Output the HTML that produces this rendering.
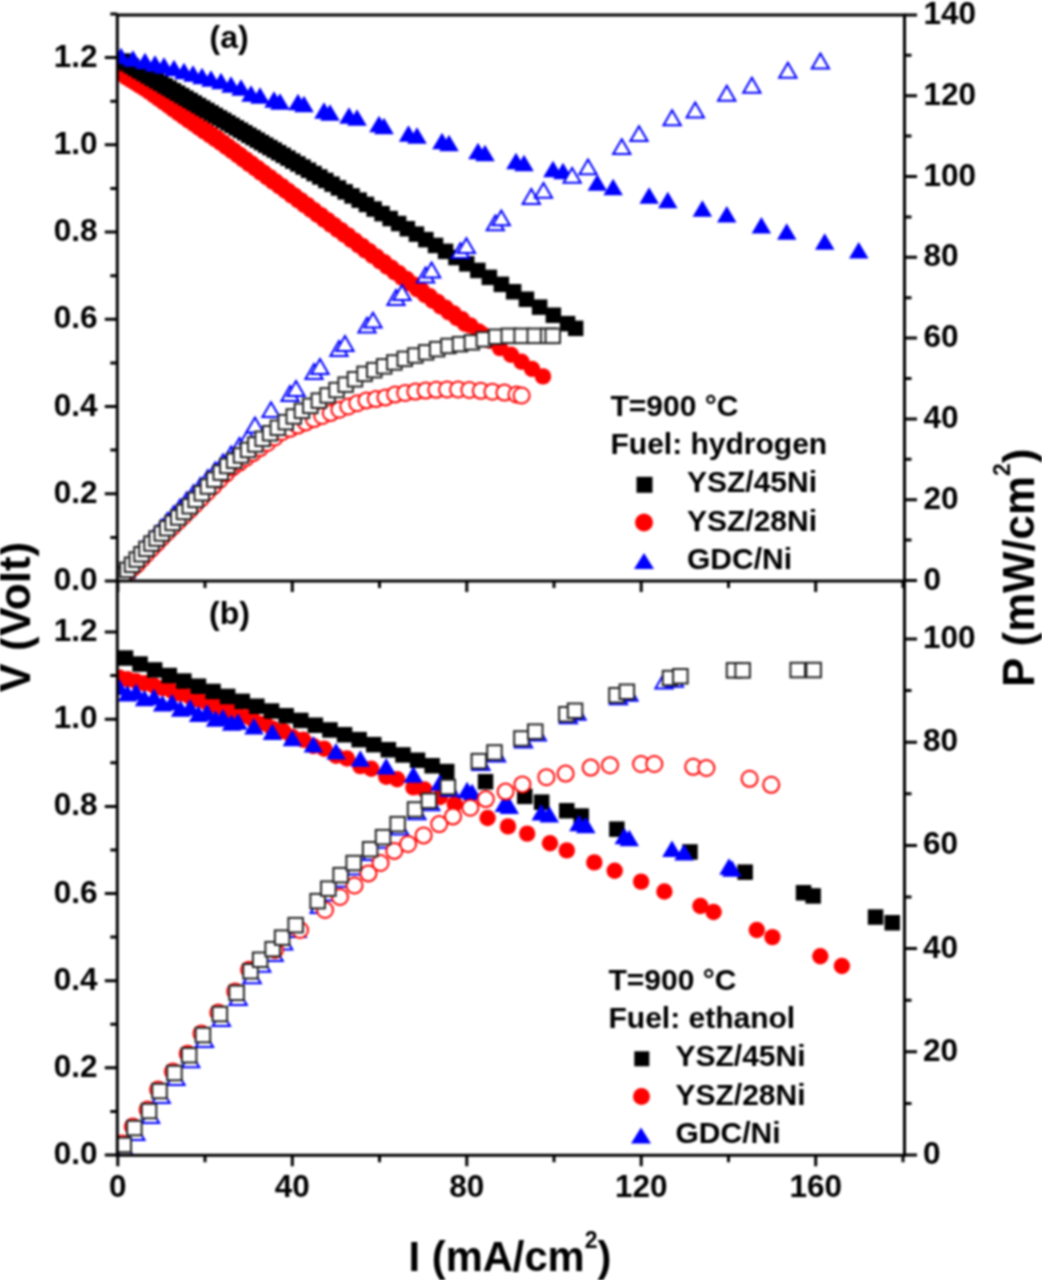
<!DOCTYPE html>
<html><head><meta charset="utf-8"><style>html,body{margin:0;padding:0;background:#fff;}svg{display:block;}#w{filter:blur(0.8px);width:1042px;height:1280px;}</style></head><body><div id="w">
<svg width="1042" height="1280" viewBox="0 0 1042 1280" font-family="&quot;Liberation Sans&quot;, sans-serif" font-weight="bold">
<rect width="1042" height="1280" fill="#fff"/>
<defs><clipPath id="ca"><rect x="117" y="13" width="800" height="568.5"/></clipPath><clipPath id="cb"><rect x="117" y="581" width="800" height="574.5"/></clipPath></defs>
<g clip-path="url(#ca)">
<circle cx="123.0" cy="72.7" r="8.2" fill="#ff0000"/>
<circle cx="127.5" cy="75.5" r="8.2" fill="#ff0000"/>
<circle cx="132.1" cy="78.3" r="8.2" fill="#ff0000"/>
<circle cx="136.7" cy="81.1" r="8.2" fill="#ff0000"/>
<circle cx="141.3" cy="84.0" r="8.2" fill="#ff0000"/>
<circle cx="146.0" cy="87.1" r="8.2" fill="#ff0000"/>
<circle cx="150.8" cy="90.6" r="8.2" fill="#ff0000"/>
<circle cx="155.6" cy="94.1" r="8.2" fill="#ff0000"/>
<circle cx="160.4" cy="97.7" r="8.2" fill="#ff0000"/>
<circle cx="165.4" cy="101.3" r="8.2" fill="#ff0000"/>
<circle cx="170.3" cy="104.9" r="8.2" fill="#ff0000"/>
<circle cx="175.4" cy="108.6" r="8.2" fill="#ff0000"/>
<circle cx="180.4" cy="112.3" r="8.2" fill="#ff0000"/>
<circle cx="185.6" cy="115.9" r="8.2" fill="#ff0000"/>
<circle cx="190.8" cy="119.5" r="8.2" fill="#ff0000"/>
<circle cx="196.0" cy="123.2" r="8.2" fill="#ff0000"/>
<circle cx="201.3" cy="126.9" r="8.2" fill="#ff0000"/>
<circle cx="206.7" cy="130.6" r="8.2" fill="#ff0000"/>
<circle cx="212.1" cy="134.4" r="8.2" fill="#ff0000"/>
<circle cx="217.6" cy="138.2" r="8.2" fill="#ff0000"/>
<circle cx="223.2" cy="142.4" r="8.2" fill="#ff0000"/>
<circle cx="228.8" cy="146.5" r="8.2" fill="#ff0000"/>
<circle cx="234.5" cy="150.8" r="8.2" fill="#ff0000"/>
<circle cx="240.2" cy="155.0" r="8.2" fill="#ff0000"/>
<circle cx="246.0" cy="159.4" r="8.2" fill="#ff0000"/>
<circle cx="251.9" cy="163.7" r="8.2" fill="#ff0000"/>
<circle cx="257.8" cy="168.1" r="8.2" fill="#ff0000"/>
<circle cx="263.8" cy="172.6" r="8.2" fill="#ff0000"/>
<circle cx="269.9" cy="177.1" r="8.2" fill="#ff0000"/>
<circle cx="276.1" cy="181.7" r="8.2" fill="#ff0000"/>
<circle cx="282.3" cy="186.3" r="8.2" fill="#ff0000"/>
<circle cx="288.5" cy="191.0" r="8.2" fill="#ff0000"/>
<circle cx="294.9" cy="195.7" r="8.2" fill="#ff0000"/>
<circle cx="301.3" cy="200.5" r="8.2" fill="#ff0000"/>
<circle cx="307.8" cy="205.3" r="8.2" fill="#ff0000"/>
<circle cx="314.3" cy="210.2" r="8.2" fill="#ff0000"/>
<circle cx="321.0" cy="215.1" r="8.2" fill="#ff0000"/>
<circle cx="327.7" cy="220.1" r="8.2" fill="#ff0000"/>
<circle cx="334.5" cy="225.2" r="8.2" fill="#ff0000"/>
<circle cx="341.3" cy="230.3" r="8.2" fill="#ff0000"/>
<circle cx="348.2" cy="235.4" r="8.2" fill="#ff0000"/>
<circle cx="355.3" cy="240.7" r="8.2" fill="#ff0000"/>
<circle cx="362.3" cy="245.9" r="8.2" fill="#ff0000"/>
<circle cx="369.5" cy="251.3" r="8.2" fill="#ff0000"/>
<circle cx="376.8" cy="256.7" r="8.2" fill="#ff0000"/>
<circle cx="384.1" cy="262.1" r="8.2" fill="#ff0000"/>
<circle cx="391.5" cy="267.7" r="8.2" fill="#ff0000"/>
<circle cx="399.0" cy="273.2" r="8.2" fill="#ff0000"/>
<circle cx="406.6" cy="278.9" r="8.2" fill="#ff0000"/>
<circle cx="414.2" cy="284.7" r="8.2" fill="#ff0000"/>
<circle cx="422.0" cy="290.5" r="8.2" fill="#ff0000"/>
<circle cx="429.8" cy="296.3" r="8.2" fill="#ff0000"/>
<circle cx="437.7" cy="302.0" r="8.2" fill="#ff0000"/>
<circle cx="445.7" cy="307.7" r="8.2" fill="#ff0000"/>
<circle cx="453.8" cy="313.5" r="8.2" fill="#ff0000"/>
<circle cx="462.0" cy="319.3" r="8.2" fill="#ff0000"/>
<circle cx="470.3" cy="325.4" r="8.2" fill="#ff0000"/>
<circle cx="478.6" cy="331.5" r="8.2" fill="#ff0000"/>
<circle cx="482.0" cy="334.0" r="8.2" fill="#ff0000"/>
<circle cx="126.0" cy="77.2" r="8.2" fill="#ff0000"/>
<circle cx="130.5" cy="80.0" r="8.2" fill="#ff0000"/>
<circle cx="135.1" cy="82.8" r="8.2" fill="#ff0000"/>
<circle cx="139.7" cy="85.6" r="8.2" fill="#ff0000"/>
<circle cx="144.3" cy="88.5" r="8.2" fill="#ff0000"/>
<circle cx="149.0" cy="91.6" r="8.2" fill="#ff0000"/>
<circle cx="153.8" cy="95.1" r="8.2" fill="#ff0000"/>
<circle cx="158.6" cy="98.6" r="8.2" fill="#ff0000"/>
<circle cx="163.4" cy="102.2" r="8.2" fill="#ff0000"/>
<circle cx="168.4" cy="105.8" r="8.2" fill="#ff0000"/>
<circle cx="173.3" cy="109.4" r="8.2" fill="#ff0000"/>
<circle cx="178.4" cy="113.1" r="8.2" fill="#ff0000"/>
<circle cx="183.4" cy="116.8" r="8.2" fill="#ff0000"/>
<circle cx="188.6" cy="120.4" r="8.2" fill="#ff0000"/>
<circle cx="193.8" cy="124.0" r="8.2" fill="#ff0000"/>
<circle cx="199.0" cy="127.7" r="8.2" fill="#ff0000"/>
<circle cx="204.3" cy="131.4" r="8.2" fill="#ff0000"/>
<circle cx="209.7" cy="135.1" r="8.2" fill="#ff0000"/>
<circle cx="215.1" cy="138.9" r="8.2" fill="#ff0000"/>
<circle cx="220.6" cy="142.7" r="8.2" fill="#ff0000"/>
<circle cx="226.2" cy="146.9" r="8.2" fill="#ff0000"/>
<circle cx="231.8" cy="151.0" r="8.2" fill="#ff0000"/>
<circle cx="237.5" cy="155.3" r="8.2" fill="#ff0000"/>
<circle cx="243.2" cy="159.5" r="8.2" fill="#ff0000"/>
<circle cx="249.0" cy="163.9" r="8.2" fill="#ff0000"/>
<circle cx="254.9" cy="168.2" r="8.2" fill="#ff0000"/>
<circle cx="260.8" cy="172.6" r="8.2" fill="#ff0000"/>
<circle cx="266.8" cy="177.1" r="8.2" fill="#ff0000"/>
<circle cx="272.9" cy="181.6" r="8.2" fill="#ff0000"/>
<circle cx="279.1" cy="186.2" r="8.2" fill="#ff0000"/>
<circle cx="285.3" cy="190.8" r="8.2" fill="#ff0000"/>
<circle cx="291.5" cy="195.5" r="8.2" fill="#ff0000"/>
<circle cx="297.9" cy="200.2" r="8.2" fill="#ff0000"/>
<circle cx="304.3" cy="205.0" r="8.2" fill="#ff0000"/>
<circle cx="310.8" cy="209.8" r="8.2" fill="#ff0000"/>
<circle cx="317.3" cy="214.7" r="8.2" fill="#ff0000"/>
<circle cx="324.0" cy="219.6" r="8.2" fill="#ff0000"/>
<circle cx="330.7" cy="224.6" r="8.2" fill="#ff0000"/>
<circle cx="337.5" cy="229.7" r="8.2" fill="#ff0000"/>
<circle cx="344.3" cy="234.8" r="8.2" fill="#ff0000"/>
<circle cx="351.2" cy="239.9" r="8.2" fill="#ff0000"/>
<circle cx="358.3" cy="245.2" r="8.2" fill="#ff0000"/>
<circle cx="365.3" cy="250.4" r="8.2" fill="#ff0000"/>
<circle cx="372.5" cy="255.8" r="8.2" fill="#ff0000"/>
<circle cx="379.8" cy="261.2" r="8.2" fill="#ff0000"/>
<circle cx="387.1" cy="266.6" r="8.2" fill="#ff0000"/>
<circle cx="394.5" cy="272.2" r="8.2" fill="#ff0000"/>
<circle cx="402.0" cy="277.7" r="8.2" fill="#ff0000"/>
<circle cx="409.6" cy="283.4" r="8.2" fill="#ff0000"/>
<circle cx="417.2" cy="289.2" r="8.2" fill="#ff0000"/>
<circle cx="425.0" cy="295.0" r="8.2" fill="#ff0000"/>
<circle cx="432.8" cy="300.8" r="8.2" fill="#ff0000"/>
<circle cx="440.7" cy="306.5" r="8.2" fill="#ff0000"/>
<circle cx="448.7" cy="312.2" r="8.2" fill="#ff0000"/>
<circle cx="456.8" cy="318.0" r="8.2" fill="#ff0000"/>
<circle cx="465.0" cy="323.8" r="8.2" fill="#ff0000"/>
<circle cx="490.0" cy="340.8" r="8.2" fill="#ff0000"/>
<circle cx="500.0" cy="348.1" r="8.2" fill="#ff0000"/>
<circle cx="511.0" cy="354.8" r="8.2" fill="#ff0000"/>
<circle cx="521.5" cy="361.7" r="8.2" fill="#ff0000"/>
<circle cx="532.0" cy="368.9" r="8.2" fill="#ff0000"/>
<circle cx="543.0" cy="376.4" r="8.2" fill="#ff0000"/>
<rect x="115.2" y="53.3" width="15.5" height="15.5" fill="#000"/>
<rect x="119.5" y="55.8" width="15.5" height="15.5" fill="#000"/>
<rect x="123.7" y="58.2" width="15.5" height="15.5" fill="#000"/>
<rect x="127.8" y="60.7" width="15.5" height="15.5" fill="#000"/>
<rect x="132.0" y="63.2" width="15.5" height="15.5" fill="#000"/>
<rect x="136.2" y="65.6" width="15.5" height="15.5" fill="#000"/>
<rect x="140.4" y="68.1" width="15.5" height="15.5" fill="#000"/>
<rect x="144.6" y="70.6" width="15.5" height="15.5" fill="#000"/>
<rect x="148.8" y="73.1" width="15.5" height="15.5" fill="#000"/>
<rect x="153.0" y="75.5" width="15.5" height="15.5" fill="#000"/>
<rect x="157.2" y="78.0" width="15.5" height="15.5" fill="#000"/>
<rect x="161.4" y="80.5" width="15.5" height="15.5" fill="#000"/>
<rect x="165.6" y="83.0" width="15.5" height="15.5" fill="#000"/>
<rect x="169.8" y="85.4" width="15.5" height="15.5" fill="#000"/>
<rect x="174.0" y="87.9" width="15.5" height="15.5" fill="#000"/>
<rect x="178.2" y="90.4" width="15.5" height="15.5" fill="#000"/>
<rect x="182.4" y="92.8" width="15.5" height="15.5" fill="#000"/>
<rect x="186.6" y="95.3" width="15.5" height="15.5" fill="#000"/>
<rect x="190.8" y="97.8" width="15.5" height="15.5" fill="#000"/>
<rect x="195.0" y="100.3" width="15.5" height="15.5" fill="#000"/>
<rect x="199.2" y="102.7" width="15.5" height="15.5" fill="#000"/>
<rect x="203.4" y="105.2" width="15.5" height="15.5" fill="#000"/>
<rect x="207.6" y="107.7" width="15.5" height="15.5" fill="#000"/>
<rect x="211.8" y="110.2" width="15.5" height="15.5" fill="#000"/>
<rect x="216.0" y="112.6" width="15.5" height="15.5" fill="#000"/>
<rect x="220.2" y="115.1" width="15.5" height="15.5" fill="#000"/>
<rect x="224.4" y="117.6" width="15.5" height="15.5" fill="#000"/>
<rect x="228.6" y="120.1" width="15.5" height="15.5" fill="#000"/>
<rect x="232.8" y="122.5" width="15.5" height="15.5" fill="#000"/>
<rect x="237.0" y="125.0" width="15.5" height="15.5" fill="#000"/>
<rect x="241.2" y="127.5" width="15.5" height="15.5" fill="#000"/>
<rect x="245.4" y="129.9" width="15.5" height="15.5" fill="#000"/>
<rect x="249.6" y="132.4" width="15.5" height="15.5" fill="#000"/>
<rect x="253.8" y="134.9" width="15.5" height="15.5" fill="#000"/>
<rect x="258.0" y="137.4" width="15.5" height="15.5" fill="#000"/>
<rect x="262.2" y="139.8" width="15.5" height="15.5" fill="#000"/>
<rect x="266.5" y="142.3" width="15.5" height="15.5" fill="#000"/>
<rect x="270.9" y="144.9" width="15.5" height="15.5" fill="#000"/>
<rect x="275.5" y="147.6" width="15.5" height="15.5" fill="#000"/>
<rect x="280.2" y="150.4" width="15.5" height="15.5" fill="#000"/>
<rect x="285.0" y="153.3" width="15.5" height="15.5" fill="#000"/>
<rect x="290.1" y="156.2" width="15.5" height="15.5" fill="#000"/>
<rect x="295.3" y="159.3" width="15.5" height="15.5" fill="#000"/>
<rect x="300.7" y="162.5" width="15.5" height="15.5" fill="#000"/>
<rect x="306.3" y="165.8" width="15.5" height="15.5" fill="#000"/>
<rect x="312.1" y="169.2" width="15.5" height="15.5" fill="#000"/>
<rect x="318.1" y="172.7" width="15.5" height="15.5" fill="#000"/>
<rect x="324.3" y="176.4" width="15.5" height="15.5" fill="#000"/>
<rect x="330.7" y="180.2" width="15.5" height="15.5" fill="#000"/>
<rect x="337.4" y="184.1" width="15.5" height="15.5" fill="#000"/>
<rect x="344.3" y="188.2" width="15.5" height="15.5" fill="#000"/>
<rect x="351.4" y="192.4" width="15.5" height="15.5" fill="#000"/>
<rect x="358.7" y="196.7" width="15.5" height="15.5" fill="#000"/>
<rect x="366.4" y="201.3" width="15.5" height="15.5" fill="#000"/>
<rect x="374.3" y="205.9" width="15.5" height="15.5" fill="#000"/>
<rect x="382.4" y="210.8" width="15.5" height="15.5" fill="#000"/>
<rect x="390.9" y="215.8" width="15.5" height="15.5" fill="#000"/>
<rect x="399.6" y="221.0" width="15.5" height="15.5" fill="#000"/>
<rect x="408.7" y="226.4" width="15.5" height="15.5" fill="#000"/>
<rect x="418.1" y="231.9" width="15.5" height="15.5" fill="#000"/>
<rect x="427.8" y="237.7" width="15.5" height="15.5" fill="#000"/>
<rect x="437.8" y="243.6" width="15.5" height="15.5" fill="#000"/>
<rect x="448.2" y="249.8" width="15.5" height="15.5" fill="#000"/>
<rect x="459.0" y="256.1" width="15.5" height="15.5" fill="#000"/>
<rect x="470.1" y="262.7" width="15.5" height="15.5" fill="#000"/>
<rect x="481.6" y="269.6" width="15.5" height="15.5" fill="#000"/>
<rect x="493.6" y="276.6" width="15.5" height="15.5" fill="#000"/>
<rect x="505.9" y="284.0" width="15.5" height="15.5" fill="#000"/>
<rect x="518.7" y="291.5" width="15.5" height="15.5" fill="#000"/>
<rect x="531.9" y="299.4" width="15.5" height="15.5" fill="#000"/>
<rect x="545.6" y="307.5" width="15.5" height="15.5" fill="#000"/>
<rect x="559.8" y="315.9" width="15.5" height="15.5" fill="#000"/>
<rect x="567.9" y="320.6" width="15.5" height="15.5" fill="#000"/>
<polygon points="121.0,47.8 130.8,64.2 111.2,64.2" fill="#0000ff"/>
<polygon points="133.0,50.2 142.8,66.8 123.2,66.8" fill="#0000ff"/>
<polygon points="145.0,52.8 154.8,69.2 135.2,69.2" fill="#0000ff"/>
<polygon points="155.0,55.2 164.8,71.8 145.2,71.8" fill="#0000ff"/>
<polygon points="164.0,57.2 173.8,73.8 154.2,73.8" fill="#0000ff"/>
<polygon points="174.0,59.8 183.8,76.2 164.2,76.2" fill="#0000ff"/>
<polygon points="184.0,62.8 193.8,79.2 174.2,79.2" fill="#0000ff"/>
<polygon points="193.0,65.2 202.8,81.8 183.2,81.8" fill="#0000ff"/>
<polygon points="202.0,67.8 211.8,84.2 192.2,84.2" fill="#0000ff"/>
<polygon points="211.0,70.2 220.8,86.8 201.2,86.8" fill="#0000ff"/>
<polygon points="221.0,72.8 230.8,89.2 211.2,89.2" fill="#0000ff"/>
<polygon points="231.0,76.2 240.8,92.8 221.2,92.8" fill="#0000ff"/>
<polygon points="241.0,79.2 250.8,95.8 231.2,95.8" fill="#0000ff"/>
<polygon points="251.0,85.2 260.8,101.8 241.2,101.8" fill="#0000ff"/>
<polygon points="260.0,87.2 269.8,103.8 250.2,103.8" fill="#0000ff"/>
<polygon points="274.0,91.2 283.8,107.8 264.2,107.8" fill="#0000ff"/>
<polygon points="280.0,93.2 289.8,109.8 270.2,109.8" fill="#0000ff"/>
<polygon points="298.0,93.8 307.8,110.2 288.2,110.2" fill="#0000ff"/>
<polygon points="304.0,95.8 313.8,112.2 294.2,112.2" fill="#0000ff"/>
<polygon points="324.0,102.2 333.8,118.8 314.2,118.8" fill="#0000ff"/>
<polygon points="330.0,104.2 339.8,120.8 320.2,120.8" fill="#0000ff"/>
<polygon points="349.0,107.2 358.8,123.8 339.2,123.8" fill="#0000ff"/>
<polygon points="357.0,109.2 366.8,125.8 347.2,125.8" fill="#0000ff"/>
<polygon points="379.0,115.8 388.8,132.2 369.2,132.2" fill="#0000ff"/>
<polygon points="384.0,117.8 393.8,134.2 374.2,134.2" fill="#0000ff"/>
<polygon points="408.5,125.2 418.2,141.8 398.8,141.8" fill="#0000ff"/>
<polygon points="417.0,127.2 426.8,143.8 407.2,143.8" fill="#0000ff"/>
<polygon points="442.0,132.8 451.8,149.2 432.2,149.2" fill="#0000ff"/>
<polygon points="449.0,134.8 458.8,151.2 439.2,151.2" fill="#0000ff"/>
<polygon points="478.0,142.8 487.8,159.2 468.2,159.2" fill="#0000ff"/>
<polygon points="485.0,144.8 494.8,161.2 475.2,161.2" fill="#0000ff"/>
<polygon points="516.0,152.8 525.8,169.2 506.2,169.2" fill="#0000ff"/>
<polygon points="524.0,154.8 533.8,171.2 514.2,171.2" fill="#0000ff"/>
<polygon points="553.0,160.8 562.8,177.2 543.2,177.2" fill="#0000ff"/>
<polygon points="563.0,162.8 572.8,179.2 553.2,179.2" fill="#0000ff"/>
<polygon points="597.3,174.3 607.0,190.8 587.5,190.8" fill="#0000ff"/>
<polygon points="613.1,178.7 622.9,195.2 603.4,195.2" fill="#0000ff"/>
<polygon points="649.1,187.3 658.9,203.8 639.4,203.8" fill="#0000ff"/>
<polygon points="667.8,191.7 677.5,208.2 658.0,208.2" fill="#0000ff"/>
<polygon points="702.4,200.2 712.1,216.8 692.6,216.8" fill="#0000ff"/>
<polygon points="726.8,206.1 736.5,222.6 717.0,222.6" fill="#0000ff"/>
<polygon points="761.4,216.9 771.1,233.4 751.6,233.4" fill="#0000ff"/>
<polygon points="786.7,223.3 796.5,239.8 777.0,239.8" fill="#0000ff"/>
<polygon points="824.7,233.3 834.5,249.8 815.0,249.8" fill="#0000ff"/>
<polygon points="858.7,242.1 868.5,258.6 849.0,258.6" fill="#0000ff"/>
<polygon points="121.0,568.9 129.7,583.8 112.3,583.8" fill="#fff" stroke="#0000ff" stroke-width="2.0" stroke-linejoin="miter"/>
<polygon points="125.5,563.1 134.2,578.0 116.8,578.0" fill="#fff" stroke="#0000ff" stroke-width="2.0" stroke-linejoin="miter"/>
<polygon points="130.2,557.1 138.8,572.0 121.5,572.0" fill="#fff" stroke="#0000ff" stroke-width="2.0" stroke-linejoin="miter"/>
<polygon points="135.0,550.9 143.6,565.8 126.3,565.8" fill="#fff" stroke="#0000ff" stroke-width="2.0" stroke-linejoin="miter"/>
<polygon points="140.0,544.4 148.6,559.3 131.3,559.3" fill="#fff" stroke="#0000ff" stroke-width="2.0" stroke-linejoin="miter"/>
<polygon points="145.1,537.9 153.8,552.8 136.5,552.8" fill="#fff" stroke="#0000ff" stroke-width="2.0" stroke-linejoin="miter"/>
<polygon points="150.5,532.0 159.1,546.9 141.8,546.9" fill="#fff" stroke="#0000ff" stroke-width="2.0" stroke-linejoin="miter"/>
<polygon points="156.0,525.9 164.6,540.8 147.3,540.8" fill="#fff" stroke="#0000ff" stroke-width="2.0" stroke-linejoin="miter"/>
<polygon points="161.7,519.6 170.4,534.5 153.1,534.5" fill="#fff" stroke="#0000ff" stroke-width="2.0" stroke-linejoin="miter"/>
<polygon points="167.6,513.1 176.3,528.0 159.0,528.0" fill="#fff" stroke="#0000ff" stroke-width="2.0" stroke-linejoin="miter"/>
<polygon points="173.8,506.3 182.4,521.2 165.1,521.2" fill="#fff" stroke="#0000ff" stroke-width="2.0" stroke-linejoin="miter"/>
<polygon points="180.1,499.4 188.8,514.3 171.5,514.3" fill="#fff" stroke="#0000ff" stroke-width="2.0" stroke-linejoin="miter"/>
<polygon points="186.7,492.5 195.3,507.4 178.0,507.4" fill="#fff" stroke="#0000ff" stroke-width="2.0" stroke-linejoin="miter"/>
<polygon points="193.5,485.3 202.1,500.2 184.8,500.2" fill="#fff" stroke="#0000ff" stroke-width="2.0" stroke-linejoin="miter"/>
<polygon points="200.5,477.9 209.1,492.8 191.8,492.8" fill="#fff" stroke="#0000ff" stroke-width="2.0" stroke-linejoin="miter"/>
<polygon points="207.8,470.2 216.4,485.1 199.1,485.1" fill="#fff" stroke="#0000ff" stroke-width="2.0" stroke-linejoin="miter"/>
<polygon points="215.3,462.4 223.9,477.3 206.6,477.3" fill="#fff" stroke="#0000ff" stroke-width="2.0" stroke-linejoin="miter"/>
<polygon points="223.1,454.6 231.7,469.5 214.4,469.5" fill="#fff" stroke="#0000ff" stroke-width="2.0" stroke-linejoin="miter"/>
<polygon points="231.1,446.5 239.8,461.4 222.5,461.4" fill="#fff" stroke="#0000ff" stroke-width="2.0" stroke-linejoin="miter"/>
<polygon points="239.5,438.1 248.1,453.0 230.8,453.0" fill="#fff" stroke="#0000ff" stroke-width="2.0" stroke-linejoin="miter"/>
<polygon points="248.1,429.4 256.8,444.3 239.5,444.3" fill="#fff" stroke="#0000ff" stroke-width="2.0" stroke-linejoin="miter"/>
<polygon points="255.0,417.6 263.6,432.4 246.3,432.4" fill="#fff" stroke="#0000ff" stroke-width="2.0" stroke-linejoin="miter"/>
<polygon points="271.0,402.2 279.6,417.1 262.4,417.1" fill="#fff" stroke="#0000ff" stroke-width="2.0" stroke-linejoin="miter"/>
<polygon points="290.0,386.1 298.6,400.9 281.4,400.9" fill="#fff" stroke="#0000ff" stroke-width="2.0" stroke-linejoin="miter"/>
<polygon points="296.0,381.1 304.6,395.9 287.4,395.9" fill="#fff" stroke="#0000ff" stroke-width="2.0" stroke-linejoin="miter"/>
<polygon points="314.0,364.1 322.6,378.9 305.4,378.9" fill="#fff" stroke="#0000ff" stroke-width="2.0" stroke-linejoin="miter"/>
<polygon points="320.0,359.1 328.6,373.9 311.4,373.9" fill="#fff" stroke="#0000ff" stroke-width="2.0" stroke-linejoin="miter"/>
<polygon points="339.0,341.1 347.6,355.9 330.4,355.9" fill="#fff" stroke="#0000ff" stroke-width="2.0" stroke-linejoin="miter"/>
<polygon points="345.0,336.1 353.6,350.9 336.4,350.9" fill="#fff" stroke="#0000ff" stroke-width="2.0" stroke-linejoin="miter"/>
<polygon points="367.0,317.8 375.6,332.6 358.4,332.6" fill="#fff" stroke="#0000ff" stroke-width="2.0" stroke-linejoin="miter"/>
<polygon points="373.0,312.8 381.6,327.6 364.4,327.6" fill="#fff" stroke="#0000ff" stroke-width="2.0" stroke-linejoin="miter"/>
<polygon points="396.0,290.1 404.6,304.9 387.4,304.9" fill="#fff" stroke="#0000ff" stroke-width="2.0" stroke-linejoin="miter"/>
<polygon points="402.0,285.1 410.6,299.9 393.4,299.9" fill="#fff" stroke="#0000ff" stroke-width="2.0" stroke-linejoin="miter"/>
<polygon points="425.6,267.6 434.2,282.4 417.0,282.4" fill="#fff" stroke="#0000ff" stroke-width="2.0" stroke-linejoin="miter"/>
<polygon points="431.6,262.6 440.2,277.4 423.0,277.4" fill="#fff" stroke="#0000ff" stroke-width="2.0" stroke-linejoin="miter"/>
<polygon points="460.4,243.2 469.0,258.1 451.8,258.1" fill="#fff" stroke="#0000ff" stroke-width="2.0" stroke-linejoin="miter"/>
<polygon points="466.4,238.2 475.0,253.1 457.8,253.1" fill="#fff" stroke="#0000ff" stroke-width="2.0" stroke-linejoin="miter"/>
<polygon points="495.3,215.5 503.9,230.3 486.7,230.3" fill="#fff" stroke="#0000ff" stroke-width="2.0" stroke-linejoin="miter"/>
<polygon points="501.3,210.5 509.9,225.3 492.7,225.3" fill="#fff" stroke="#0000ff" stroke-width="2.0" stroke-linejoin="miter"/>
<polygon points="531.3,189.1 539.9,203.9 522.6,203.9" fill="#fff" stroke="#0000ff" stroke-width="2.0" stroke-linejoin="miter"/>
<polygon points="543.5,182.9 552.1,197.8 534.9,197.8" fill="#fff" stroke="#0000ff" stroke-width="2.0" stroke-linejoin="miter"/>
<polygon points="572.1,167.9 580.8,182.8 563.5,182.8" fill="#fff" stroke="#0000ff" stroke-width="2.0" stroke-linejoin="miter"/>
<polygon points="588.0,159.5 596.6,174.3 579.4,174.3" fill="#fff" stroke="#0000ff" stroke-width="2.0" stroke-linejoin="miter"/>
<polygon points="621.8,139.2 630.4,154.0 613.1,154.0" fill="#fff" stroke="#0000ff" stroke-width="2.0" stroke-linejoin="miter"/>
<polygon points="639.0,126.2 647.6,141.1 630.4,141.1" fill="#fff" stroke="#0000ff" stroke-width="2.0" stroke-linejoin="miter"/>
<polygon points="672.1,110.3 680.8,125.2 663.5,125.2" fill="#fff" stroke="#0000ff" stroke-width="2.0" stroke-linejoin="miter"/>
<polygon points="695.2,102.5 703.9,117.5 686.6,117.5" fill="#fff" stroke="#0000ff" stroke-width="2.0" stroke-linejoin="miter"/>
<polygon points="726.8,85.8 735.4,100.8 718.1,100.8" fill="#fff" stroke="#0000ff" stroke-width="2.0" stroke-linejoin="miter"/>
<polygon points="751.9,77.8 760.5,92.8 743.2,92.8" fill="#fff" stroke="#0000ff" stroke-width="2.0" stroke-linejoin="miter"/>
<polygon points="787.9,62.8 796.5,77.8 779.2,77.8" fill="#fff" stroke="#0000ff" stroke-width="2.0" stroke-linejoin="miter"/>
<polygon points="820.4,53.6 829.0,68.5 811.8,68.5" fill="#fff" stroke="#0000ff" stroke-width="2.0" stroke-linejoin="miter"/>
<circle cx="123.0" cy="576.1" r="8.0" fill="#fff" stroke="#ff0000" stroke-width="2.0"/>
<circle cx="127.5" cy="572.3" r="8.0" fill="#fff" stroke="#ff0000" stroke-width="2.0"/>
<circle cx="132.1" cy="568.4" r="8.0" fill="#fff" stroke="#ff0000" stroke-width="2.0"/>
<circle cx="136.8" cy="564.3" r="8.0" fill="#fff" stroke="#ff0000" stroke-width="2.0"/>
<circle cx="141.5" cy="559.2" r="8.0" fill="#fff" stroke="#ff0000" stroke-width="2.0"/>
<circle cx="146.4" cy="554.0" r="8.0" fill="#fff" stroke="#ff0000" stroke-width="2.0"/>
<circle cx="151.4" cy="548.7" r="8.0" fill="#fff" stroke="#ff0000" stroke-width="2.0"/>
<circle cx="156.5" cy="543.3" r="8.0" fill="#fff" stroke="#ff0000" stroke-width="2.0"/>
<circle cx="161.6" cy="537.8" r="8.0" fill="#fff" stroke="#ff0000" stroke-width="2.0"/>
<circle cx="166.9" cy="532.5" r="8.0" fill="#fff" stroke="#ff0000" stroke-width="2.0"/>
<circle cx="172.3" cy="527.1" r="8.0" fill="#fff" stroke="#ff0000" stroke-width="2.0"/>
<circle cx="177.8" cy="521.7" r="8.0" fill="#fff" stroke="#ff0000" stroke-width="2.0"/>
<circle cx="183.4" cy="516.1" r="8.0" fill="#fff" stroke="#ff0000" stroke-width="2.0"/>
<circle cx="189.1" cy="510.4" r="8.0" fill="#fff" stroke="#ff0000" stroke-width="2.0"/>
<circle cx="194.9" cy="504.6" r="8.0" fill="#fff" stroke="#ff0000" stroke-width="2.0"/>
<circle cx="200.9" cy="498.6" r="8.0" fill="#fff" stroke="#ff0000" stroke-width="2.0"/>
<circle cx="206.9" cy="492.5" r="8.0" fill="#fff" stroke="#ff0000" stroke-width="2.0"/>
<circle cx="213.1" cy="486.3" r="8.0" fill="#fff" stroke="#ff0000" stroke-width="2.0"/>
<circle cx="219.4" cy="480.0" r="8.0" fill="#fff" stroke="#ff0000" stroke-width="2.0"/>
<circle cx="225.9" cy="473.6" r="8.0" fill="#fff" stroke="#ff0000" stroke-width="2.0"/>
<circle cx="232.4" cy="467.4" r="8.0" fill="#fff" stroke="#ff0000" stroke-width="2.0"/>
<circle cx="239.1" cy="462.8" r="8.0" fill="#fff" stroke="#ff0000" stroke-width="2.0"/>
<circle cx="245.9" cy="458.0" r="8.0" fill="#fff" stroke="#ff0000" stroke-width="2.0"/>
<circle cx="252.9" cy="453.1" r="8.0" fill="#fff" stroke="#ff0000" stroke-width="2.0"/>
<circle cx="260.0" cy="448.1" r="8.0" fill="#fff" stroke="#ff0000" stroke-width="2.0"/>
<circle cx="267.3" cy="443.0" r="8.0" fill="#fff" stroke="#ff0000" stroke-width="2.0"/>
<circle cx="274.7" cy="437.5" r="8.0" fill="#fff" stroke="#ff0000" stroke-width="2.0"/>
<circle cx="282.2" cy="432.0" r="8.0" fill="#fff" stroke="#ff0000" stroke-width="2.0"/>
<circle cx="289.9" cy="428.8" r="8.0" fill="#fff" stroke="#ff0000" stroke-width="2.0"/>
<circle cx="297.8" cy="425.6" r="8.0" fill="#fff" stroke="#ff0000" stroke-width="2.0"/>
<circle cx="305.8" cy="422.4" r="8.0" fill="#fff" stroke="#ff0000" stroke-width="2.0"/>
<circle cx="313.9" cy="419.1" r="8.0" fill="#fff" stroke="#ff0000" stroke-width="2.0"/>
<circle cx="322.3" cy="416.0" r="8.0" fill="#fff" stroke="#ff0000" stroke-width="2.0"/>
<circle cx="330.8" cy="412.9" r="8.0" fill="#fff" stroke="#ff0000" stroke-width="2.0"/>
<circle cx="339.4" cy="409.7" r="8.0" fill="#fff" stroke="#ff0000" stroke-width="2.0"/>
<circle cx="348.3" cy="406.5" r="8.0" fill="#fff" stroke="#ff0000" stroke-width="2.0"/>
<circle cx="357.3" cy="403.2" r="8.0" fill="#fff" stroke="#ff0000" stroke-width="2.0"/>
<circle cx="366.5" cy="400.4" r="8.0" fill="#fff" stroke="#ff0000" stroke-width="2.0"/>
<circle cx="375.9" cy="399.1" r="8.0" fill="#fff" stroke="#ff0000" stroke-width="2.0"/>
<circle cx="385.5" cy="397.4" r="8.0" fill="#fff" stroke="#ff0000" stroke-width="2.0"/>
<circle cx="395.2" cy="394.4" r="8.0" fill="#fff" stroke="#ff0000" stroke-width="2.0"/>
<circle cx="405.2" cy="393.0" r="8.0" fill="#fff" stroke="#ff0000" stroke-width="2.0"/>
<circle cx="415.4" cy="391.6" r="8.0" fill="#fff" stroke="#ff0000" stroke-width="2.0"/>
<circle cx="425.7" cy="390.6" r="8.0" fill="#fff" stroke="#ff0000" stroke-width="2.0"/>
<circle cx="436.3" cy="389.8" r="8.0" fill="#fff" stroke="#ff0000" stroke-width="2.0"/>
<circle cx="447.1" cy="389.5" r="8.0" fill="#fff" stroke="#ff0000" stroke-width="2.0"/>
<circle cx="458.1" cy="389.5" r="8.0" fill="#fff" stroke="#ff0000" stroke-width="2.0"/>
<circle cx="469.3" cy="390.0" r="8.0" fill="#fff" stroke="#ff0000" stroke-width="2.0"/>
<circle cx="480.8" cy="390.8" r="8.0" fill="#fff" stroke="#ff0000" stroke-width="2.0"/>
<circle cx="492.4" cy="391.7" r="8.0" fill="#fff" stroke="#ff0000" stroke-width="2.0"/>
<circle cx="504.4" cy="392.6" r="8.0" fill="#fff" stroke="#ff0000" stroke-width="2.0"/>
<circle cx="516.5" cy="394.5" r="8.0" fill="#fff" stroke="#ff0000" stroke-width="2.0"/>
<circle cx="521.6" cy="395.5" r="8.0" fill="#fff" stroke="#ff0000" stroke-width="2.0"/>
<rect x="115.8" y="567.5" width="14.5" height="14.5" fill="#fff" stroke="#222" stroke-width="2.0"/>
<rect x="120.2" y="562.6" width="14.5" height="14.5" fill="#fff" stroke="#222" stroke-width="2.0"/>
<rect x="124.8" y="557.5" width="14.5" height="14.5" fill="#fff" stroke="#222" stroke-width="2.0"/>
<rect x="129.5" y="552.3" width="14.5" height="14.5" fill="#fff" stroke="#222" stroke-width="2.0"/>
<rect x="134.3" y="547.0" width="14.5" height="14.5" fill="#fff" stroke="#222" stroke-width="2.0"/>
<rect x="139.2" y="541.6" width="14.5" height="14.5" fill="#fff" stroke="#222" stroke-width="2.0"/>
<rect x="144.3" y="536.3" width="14.5" height="14.5" fill="#fff" stroke="#222" stroke-width="2.0"/>
<rect x="149.4" y="531.3" width="14.5" height="14.5" fill="#fff" stroke="#222" stroke-width="2.0"/>
<rect x="154.6" y="526.2" width="14.5" height="14.5" fill="#fff" stroke="#222" stroke-width="2.0"/>
<rect x="159.9" y="521.0" width="14.5" height="14.5" fill="#fff" stroke="#222" stroke-width="2.0"/>
<rect x="165.4" y="515.7" width="14.5" height="14.5" fill="#fff" stroke="#222" stroke-width="2.0"/>
<rect x="171.0" y="510.2" width="14.5" height="14.5" fill="#fff" stroke="#222" stroke-width="2.0"/>
<rect x="176.7" y="504.7" width="14.5" height="14.5" fill="#fff" stroke="#222" stroke-width="2.0"/>
<rect x="182.5" y="499.0" width="14.5" height="14.5" fill="#fff" stroke="#222" stroke-width="2.0"/>
<rect x="188.4" y="492.6" width="14.5" height="14.5" fill="#fff" stroke="#222" stroke-width="2.0"/>
<rect x="194.5" y="486.0" width="14.5" height="14.5" fill="#fff" stroke="#222" stroke-width="2.0"/>
<rect x="200.7" y="479.3" width="14.5" height="14.5" fill="#fff" stroke="#222" stroke-width="2.0"/>
<rect x="207.0" y="472.4" width="14.5" height="14.5" fill="#fff" stroke="#222" stroke-width="2.0"/>
<rect x="213.5" y="465.4" width="14.5" height="14.5" fill="#fff" stroke="#222" stroke-width="2.0"/>
<rect x="220.1" y="458.7" width="14.5" height="14.5" fill="#fff" stroke="#222" stroke-width="2.0"/>
<rect x="226.9" y="453.5" width="14.5" height="14.5" fill="#fff" stroke="#222" stroke-width="2.0"/>
<rect x="233.8" y="448.2" width="14.5" height="14.5" fill="#fff" stroke="#222" stroke-width="2.0"/>
<rect x="240.9" y="442.7" width="14.5" height="14.5" fill="#fff" stroke="#222" stroke-width="2.0"/>
<rect x="248.1" y="437.2" width="14.5" height="14.5" fill="#fff" stroke="#222" stroke-width="2.0"/>
<rect x="255.4" y="431.5" width="14.5" height="14.5" fill="#fff" stroke="#222" stroke-width="2.0"/>
<rect x="262.9" y="426.0" width="14.5" height="14.5" fill="#fff" stroke="#222" stroke-width="2.0"/>
<rect x="270.6" y="420.5" width="14.5" height="14.5" fill="#fff" stroke="#222" stroke-width="2.0"/>
<rect x="278.5" y="414.9" width="14.5" height="14.5" fill="#fff" stroke="#222" stroke-width="2.0"/>
<rect x="286.5" y="409.2" width="14.5" height="14.5" fill="#fff" stroke="#222" stroke-width="2.0"/>
<rect x="294.7" y="403.6" width="14.5" height="14.5" fill="#fff" stroke="#222" stroke-width="2.0"/>
<rect x="303.1" y="398.6" width="14.5" height="14.5" fill="#fff" stroke="#222" stroke-width="2.0"/>
<rect x="311.6" y="393.4" width="14.5" height="14.5" fill="#fff" stroke="#222" stroke-width="2.0"/>
<rect x="320.4" y="388.2" width="14.5" height="14.5" fill="#fff" stroke="#222" stroke-width="2.0"/>
<rect x="329.3" y="382.8" width="14.5" height="14.5" fill="#fff" stroke="#222" stroke-width="2.0"/>
<rect x="338.4" y="377.4" width="14.5" height="14.5" fill="#fff" stroke="#222" stroke-width="2.0"/>
<rect x="347.7" y="372.0" width="14.5" height="14.5" fill="#fff" stroke="#222" stroke-width="2.0"/>
<rect x="357.3" y="366.6" width="14.5" height="14.5" fill="#fff" stroke="#222" stroke-width="2.0"/>
<rect x="367.0" y="362.9" width="14.5" height="14.5" fill="#fff" stroke="#222" stroke-width="2.0"/>
<rect x="376.9" y="359.1" width="14.5" height="14.5" fill="#fff" stroke="#222" stroke-width="2.0"/>
<rect x="387.1" y="355.2" width="14.5" height="14.5" fill="#fff" stroke="#222" stroke-width="2.0"/>
<rect x="397.5" y="351.6" width="14.5" height="14.5" fill="#fff" stroke="#222" stroke-width="2.0"/>
<rect x="408.1" y="348.3" width="14.5" height="14.5" fill="#fff" stroke="#222" stroke-width="2.0"/>
<rect x="418.9" y="345.1" width="14.5" height="14.5" fill="#fff" stroke="#222" stroke-width="2.0"/>
<rect x="429.9" y="341.9" width="14.5" height="14.5" fill="#fff" stroke="#222" stroke-width="2.0"/>
<rect x="441.2" y="338.7" width="14.5" height="14.5" fill="#fff" stroke="#222" stroke-width="2.0"/>
<rect x="452.8" y="336.9" width="14.5" height="14.5" fill="#fff" stroke="#222" stroke-width="2.0"/>
<rect x="464.6" y="335.1" width="14.5" height="14.5" fill="#fff" stroke="#222" stroke-width="2.0"/>
<rect x="476.6" y="332.1" width="14.5" height="14.5" fill="#fff" stroke="#222" stroke-width="2.0"/>
<rect x="488.9" y="329.5" width="14.5" height="14.5" fill="#fff" stroke="#222" stroke-width="2.0"/>
<rect x="501.5" y="328.6" width="14.5" height="14.5" fill="#fff" stroke="#222" stroke-width="2.0"/>
<rect x="514.4" y="328.6" width="14.5" height="14.5" fill="#fff" stroke="#222" stroke-width="2.0"/>
<rect x="527.5" y="328.6" width="14.5" height="14.5" fill="#fff" stroke="#222" stroke-width="2.0"/>
<rect x="540.9" y="328.6" width="14.5" height="14.5" fill="#fff" stroke="#222" stroke-width="2.0"/>
<rect x="545.5" y="328.6" width="14.5" height="14.5" fill="#fff" stroke="#222" stroke-width="2.0"/>
</g><g clip-path="url(#cb)">
<circle cx="119.0" cy="677.5" r="8.2" fill="#ff0000"/>
<circle cx="127.5" cy="679.2" r="8.2" fill="#ff0000"/>
<circle cx="136.0" cy="681.2" r="8.2" fill="#ff0000"/>
<circle cx="144.5" cy="683.2" r="8.2" fill="#ff0000"/>
<circle cx="154.0" cy="685.7" r="8.2" fill="#ff0000"/>
<circle cx="162.5" cy="688.1" r="8.2" fill="#ff0000"/>
<circle cx="172.0" cy="690.9" r="8.2" fill="#ff0000"/>
<circle cx="180.5" cy="693.6" r="8.2" fill="#ff0000"/>
<circle cx="190.0" cy="696.7" r="8.2" fill="#ff0000"/>
<circle cx="198.5" cy="699.6" r="8.2" fill="#ff0000"/>
<circle cx="207.0" cy="702.6" r="8.2" fill="#ff0000"/>
<circle cx="215.5" cy="705.8" r="8.2" fill="#ff0000"/>
<circle cx="223.0" cy="708.6" r="8.2" fill="#ff0000"/>
<circle cx="231.5" cy="711.8" r="8.2" fill="#ff0000"/>
<circle cx="238.0" cy="714.4" r="8.2" fill="#ff0000"/>
<circle cx="249.0" cy="716.8" r="8.2" fill="#ff0000"/>
<circle cx="254.0" cy="720.8" r="8.2" fill="#ff0000"/>
<circle cx="265.0" cy="723.4" r="8.2" fill="#ff0000"/>
<circle cx="272.3" cy="728.4" r="8.2" fill="#ff0000"/>
<circle cx="283.3" cy="731.1" r="8.2" fill="#ff0000"/>
<circle cx="292.3" cy="736.9" r="8.2" fill="#ff0000"/>
<circle cx="303.3" cy="739.7" r="8.2" fill="#ff0000"/>
<circle cx="313.3" cy="746.0" r="8.2" fill="#ff0000"/>
<circle cx="324.3" cy="748.7" r="8.2" fill="#ff0000"/>
<circle cx="336.0" cy="755.8" r="8.2" fill="#ff0000"/>
<circle cx="347.0" cy="758.5" r="8.2" fill="#ff0000"/>
<circle cx="360.3" cy="766.1" r="8.2" fill="#ff0000"/>
<circle cx="371.3" cy="768.7" r="8.2" fill="#ff0000"/>
<circle cx="386.2" cy="776.8" r="8.2" fill="#ff0000"/>
<circle cx="397.2" cy="779.2" r="8.2" fill="#ff0000"/>
<circle cx="413.4" cy="787.4" r="8.2" fill="#ff0000"/>
<circle cx="424.4" cy="789.5" r="8.2" fill="#ff0000"/>
<circle cx="440.0" cy="797.0" r="8.2" fill="#ff0000"/>
<circle cx="454.7" cy="804.0" r="8.2" fill="#ff0000"/>
<circle cx="487.6" cy="818.0" r="8.2" fill="#ff0000"/>
<circle cx="508.0" cy="826.4" r="8.2" fill="#ff0000"/>
<circle cx="527.2" cy="833.6" r="8.2" fill="#ff0000"/>
<circle cx="550.0" cy="843.2" r="8.2" fill="#ff0000"/>
<circle cx="566.8" cy="850.4" r="8.2" fill="#ff0000"/>
<circle cx="594.3" cy="862.4" r="8.2" fill="#ff0000"/>
<circle cx="614.7" cy="870.8" r="8.2" fill="#ff0000"/>
<circle cx="641.1" cy="881.6" r="8.2" fill="#ff0000"/>
<circle cx="664.4" cy="891.5" r="8.2" fill="#ff0000"/>
<circle cx="700.4" cy="906.0" r="8.2" fill="#ff0000"/>
<circle cx="713.6" cy="912.0" r="8.2" fill="#ff0000"/>
<circle cx="756.8" cy="930.0" r="8.2" fill="#ff0000"/>
<circle cx="772.4" cy="937.1" r="8.2" fill="#ff0000"/>
<circle cx="820.3" cy="956.3" r="8.2" fill="#ff0000"/>
<circle cx="841.9" cy="966.0" r="8.2" fill="#ff0000"/>
<rect x="117.8" y="650.3" width="15.5" height="15.5" fill="#000"/>
<rect x="132.3" y="656.3" width="15.5" height="15.5" fill="#000"/>
<rect x="146.9" y="662.2" width="15.5" height="15.5" fill="#000"/>
<rect x="161.5" y="667.8" width="15.5" height="15.5" fill="#000"/>
<rect x="176.1" y="673.3" width="15.5" height="15.5" fill="#000"/>
<rect x="190.7" y="678.5" width="15.5" height="15.5" fill="#000"/>
<rect x="205.3" y="683.7" width="15.5" height="15.5" fill="#000"/>
<rect x="219.9" y="688.7" width="15.5" height="15.5" fill="#000"/>
<rect x="234.5" y="693.6" width="15.5" height="15.5" fill="#000"/>
<rect x="249.1" y="698.5" width="15.5" height="15.5" fill="#000"/>
<rect x="263.8" y="703.3" width="15.5" height="15.5" fill="#000"/>
<rect x="278.4" y="708.0" width="15.5" height="15.5" fill="#000"/>
<rect x="293.0" y="712.7" width="15.5" height="15.5" fill="#000"/>
<rect x="307.6" y="717.5" width="15.5" height="15.5" fill="#000"/>
<rect x="322.2" y="722.2" width="15.5" height="15.5" fill="#000"/>
<rect x="336.8" y="727.0" width="15.5" height="15.5" fill="#000"/>
<rect x="351.4" y="731.9" width="15.5" height="15.5" fill="#000"/>
<rect x="366.0" y="736.9" width="15.5" height="15.5" fill="#000"/>
<rect x="380.6" y="742.0" width="15.5" height="15.5" fill="#000"/>
<rect x="395.2" y="747.2" width="15.5" height="15.5" fill="#000"/>
<rect x="409.8" y="752.5" width="15.5" height="15.5" fill="#000"/>
<rect x="424.4" y="758.0" width="15.5" height="15.5" fill="#000"/>
<rect x="439.0" y="763.8" width="15.5" height="15.5" fill="#000"/>
<rect x="477.8" y="774.0" width="15.5" height="15.5" fill="#000"/>
<rect x="517.0" y="788.6" width="15.5" height="15.5" fill="#000"/>
<rect x="533.9" y="794.4" width="15.5" height="15.5" fill="#000"/>
<rect x="559.0" y="803.0" width="15.5" height="15.5" fill="#000"/>
<rect x="573.5" y="808.3" width="15.5" height="15.5" fill="#000"/>
<rect x="609.1" y="821.4" width="15.5" height="15.5" fill="#000"/>
<rect x="682.2" y="844.2" width="15.5" height="15.5" fill="#000"/>
<rect x="737.4" y="864.4" width="15.5" height="15.5" fill="#000"/>
<rect x="795.8" y="885.0" width="15.5" height="15.5" fill="#000"/>
<rect x="805.4" y="888.2" width="15.5" height="15.5" fill="#000"/>
<rect x="867.8" y="909.3" width="15.5" height="15.5" fill="#000"/>
<rect x="884.5" y="915.0" width="15.5" height="15.5" fill="#000"/>
<polygon points="119.0,678.5 128.8,695.0 109.2,695.0" fill="#0000ff"/>
<polygon points="127.5,685.0 137.2,701.5 117.8,701.5" fill="#0000ff"/>
<polygon points="136.0,683.4 145.8,699.9 126.2,699.9" fill="#0000ff"/>
<polygon points="144.5,689.8 154.2,706.3 134.8,706.3" fill="#0000ff"/>
<polygon points="154.0,688.6 163.8,705.1 144.2,705.1" fill="#0000ff"/>
<polygon points="162.5,695.0 172.2,711.5 152.8,711.5" fill="#0000ff"/>
<polygon points="172.0,693.8 181.8,710.3 162.2,710.3" fill="#0000ff"/>
<polygon points="180.5,700.3 190.2,716.8 170.8,716.8" fill="#0000ff"/>
<polygon points="190.0,699.1 199.8,715.6 180.2,715.6" fill="#0000ff"/>
<polygon points="198.5,705.6 208.2,722.1 188.8,722.1" fill="#0000ff"/>
<polygon points="207.0,704.1 216.8,720.6 197.2,720.6" fill="#0000ff"/>
<polygon points="215.5,710.3 225.2,726.8 205.8,726.8" fill="#0000ff"/>
<polygon points="223.0,708.9 232.8,725.4 213.2,725.4" fill="#0000ff"/>
<polygon points="231.5,714.2 241.2,730.7 221.8,730.7" fill="#0000ff"/>
<polygon points="238.0,713.3 247.8,729.8 228.2,729.8" fill="#0000ff"/>
<polygon points="254.0,718.1 263.8,734.6 244.2,734.6" fill="#0000ff"/>
<polygon points="272.3,723.6 282.1,740.1 262.6,740.1" fill="#0000ff"/>
<polygon points="292.3,729.7 302.1,746.2 282.6,746.2" fill="#0000ff"/>
<polygon points="313.3,736.0 323.1,752.5 303.6,752.5" fill="#0000ff"/>
<polygon points="336.0,742.9 345.8,759.4 326.2,759.4" fill="#0000ff"/>
<polygon points="360.3,750.2 370.1,766.7 350.6,766.7" fill="#0000ff"/>
<polygon points="386.2,758.1 395.9,774.6 376.4,774.6" fill="#0000ff"/>
<polygon points="413.4,766.2 423.1,782.7 403.6,782.7" fill="#0000ff"/>
<polygon points="440.0,774.2 449.8,790.7 430.2,790.7" fill="#0000ff"/>
<polygon points="467.1,781.8 476.9,798.2 457.4,798.2" fill="#0000ff"/>
<polygon points="472.1,783.8 481.9,800.2 462.4,800.2" fill="#0000ff"/>
<polygon points="504.3,795.5 514.0,812.0 494.6,812.0" fill="#0000ff"/>
<polygon points="509.3,797.5 519.0,814.0 499.6,814.0" fill="#0000ff"/>
<polygon points="541.2,804.0 551.0,820.5 531.5,820.5" fill="#0000ff"/>
<polygon points="549.2,806.0 559.0,822.5 539.5,822.5" fill="#0000ff"/>
<polygon points="578.9,814.8 588.6,831.2 569.1,831.2" fill="#0000ff"/>
<polygon points="585.9,816.8 595.6,833.2 576.1,833.2" fill="#0000ff"/>
<polygon points="624.3,827.8 634.0,844.2 614.5,844.2" fill="#0000ff"/>
<polygon points="629.3,829.8 639.0,846.2 619.5,846.2" fill="#0000ff"/>
<polygon points="672.0,840.4 681.8,856.9 662.2,856.9" fill="#0000ff"/>
<polygon points="684.0,844.0 693.8,860.5 674.2,860.5" fill="#0000ff"/>
<polygon points="729.0,858.2 738.8,874.8 719.2,874.8" fill="#0000ff"/>
<polygon points="732.0,860.2 741.8,876.8 722.2,876.8" fill="#0000ff"/>
<polygon points="125.2,1142.0 133.8,1156.9 116.5,1156.9" fill="#fff" stroke="#0000ff" stroke-width="2.0" stroke-linejoin="miter"/>
<polygon points="135.8,1125.0 144.5,1140.0 127.2,1140.0" fill="#fff" stroke="#0000ff" stroke-width="2.0" stroke-linejoin="miter"/>
<polygon points="150.6,1108.1 159.2,1123.0 141.9,1123.0" fill="#fff" stroke="#0000ff" stroke-width="2.0" stroke-linejoin="miter"/>
<polygon points="161.1,1088.1 169.8,1103.0 152.4,1103.0" fill="#fff" stroke="#0000ff" stroke-width="2.0" stroke-linejoin="miter"/>
<polygon points="175.9,1070.1 184.6,1085.0 167.2,1085.0" fill="#fff" stroke="#0000ff" stroke-width="2.0" stroke-linejoin="miter"/>
<polygon points="190.7,1052.2 199.3,1067.2 182.0,1067.2" fill="#fff" stroke="#0000ff" stroke-width="2.0" stroke-linejoin="miter"/>
<polygon points="204.4,1032.1 213.1,1047.0 195.8,1047.0" fill="#fff" stroke="#0000ff" stroke-width="2.0" stroke-linejoin="miter"/>
<polygon points="221.3,1011.0 230.0,1026.0 212.7,1026.0" fill="#fff" stroke="#0000ff" stroke-width="2.0" stroke-linejoin="miter"/>
<polygon points="238.2,989.9 246.8,1004.9 229.5,1004.9" fill="#fff" stroke="#0000ff" stroke-width="2.0" stroke-linejoin="miter"/>
<polygon points="252.1,968.2 260.8,983.2 243.4,983.2" fill="#fff" stroke="#0000ff" stroke-width="2.0" stroke-linejoin="miter"/>
<polygon points="261.7,956.8 270.3,971.7 253.0,971.7" fill="#fff" stroke="#0000ff" stroke-width="2.0" stroke-linejoin="miter"/>
<polygon points="274.1,946.1 282.8,961.1 265.5,961.1" fill="#fff" stroke="#0000ff" stroke-width="2.0" stroke-linejoin="miter"/>
<polygon points="283.7,934.6 292.3,949.6 275.1,949.6" fill="#fff" stroke="#0000ff" stroke-width="2.0" stroke-linejoin="miter"/>
<polygon points="297.2,922.1 305.8,937.1 288.6,937.1" fill="#fff" stroke="#0000ff" stroke-width="2.0" stroke-linejoin="miter"/>
<polygon points="319.2,898.1 327.8,913.1 310.6,913.1" fill="#fff" stroke="#0000ff" stroke-width="2.0" stroke-linejoin="miter"/>
<polygon points="329.8,885.6 338.4,900.6 321.2,900.6" fill="#fff" stroke="#0000ff" stroke-width="2.0" stroke-linejoin="miter"/>
<polygon points="342.2,871.9 350.9,886.8 333.6,886.8" fill="#fff" stroke="#0000ff" stroke-width="2.0" stroke-linejoin="miter"/>
<polygon points="355.3,859.5 363.9,874.4 346.6,874.4" fill="#fff" stroke="#0000ff" stroke-width="2.0" stroke-linejoin="miter"/>
<polygon points="371.8,845.2 380.4,860.1 363.1,860.1" fill="#fff" stroke="#0000ff" stroke-width="2.0" stroke-linejoin="miter"/>
<polygon points="384.7,832.8 393.4,847.7 376.1,847.7" fill="#fff" stroke="#0000ff" stroke-width="2.0" stroke-linejoin="miter"/>
<polygon points="399.5,819.5 408.1,834.4 390.8,834.4" fill="#fff" stroke="#0000ff" stroke-width="2.0" stroke-linejoin="miter"/>
<polygon points="416.9,804.4 425.5,819.3 408.2,819.3" fill="#fff" stroke="#0000ff" stroke-width="2.0" stroke-linejoin="miter"/>
<polygon points="430.7,795.4 439.4,810.3 422.1,810.3" fill="#fff" stroke="#0000ff" stroke-width="2.0" stroke-linejoin="miter"/>
<polygon points="449.8,781.1 458.4,796.0 441.1,796.0" fill="#fff" stroke="#0000ff" stroke-width="2.0" stroke-linejoin="miter"/>
<polygon points="480.9,755.1 489.5,770.1 472.2,770.1" fill="#fff" stroke="#0000ff" stroke-width="2.0" stroke-linejoin="miter"/>
<polygon points="496.5,746.5 505.1,761.5 487.9,761.5" fill="#fff" stroke="#0000ff" stroke-width="2.0" stroke-linejoin="miter"/>
<polygon points="523.5,732.5 532.1,747.5 514.9,747.5" fill="#fff" stroke="#0000ff" stroke-width="2.0" stroke-linejoin="miter"/>
<polygon points="537.3,725.6 545.9,740.6 528.6,740.6" fill="#fff" stroke="#0000ff" stroke-width="2.0" stroke-linejoin="miter"/>
<polygon points="568.4,708.3 577.0,723.2 559.8,723.2" fill="#fff" stroke="#0000ff" stroke-width="2.0" stroke-linejoin="miter"/>
<polygon points="577.0,704.8 585.6,719.8 568.4,719.8" fill="#fff" stroke="#0000ff" stroke-width="2.0" stroke-linejoin="miter"/>
<polygon points="618.5,689.3 627.1,704.2 609.9,704.2" fill="#fff" stroke="#0000ff" stroke-width="2.0" stroke-linejoin="miter"/>
<polygon points="628.9,685.8 637.5,700.8 620.2,700.8" fill="#fff" stroke="#0000ff" stroke-width="2.0" stroke-linejoin="miter"/>
<polygon points="664.0,673.5 672.6,688.5 655.4,688.5" fill="#fff" stroke="#0000ff" stroke-width="2.0" stroke-linejoin="miter"/>
<polygon points="674.4,671.8 683.0,686.8 665.8,686.8" fill="#fff" stroke="#0000ff" stroke-width="2.0" stroke-linejoin="miter"/>
<circle cx="122.2" cy="1143.4" r="8.0" fill="#fff" stroke="#ff0000" stroke-width="2.0"/>
<circle cx="132.8" cy="1126.5" r="8.0" fill="#fff" stroke="#ff0000" stroke-width="2.0"/>
<circle cx="147.6" cy="1109.6" r="8.0" fill="#fff" stroke="#ff0000" stroke-width="2.0"/>
<circle cx="158.1" cy="1089.6" r="8.0" fill="#fff" stroke="#ff0000" stroke-width="2.0"/>
<circle cx="172.9" cy="1071.6" r="8.0" fill="#fff" stroke="#ff0000" stroke-width="2.0"/>
<circle cx="187.7" cy="1053.7" r="8.0" fill="#fff" stroke="#ff0000" stroke-width="2.0"/>
<circle cx="201.4" cy="1033.6" r="8.0" fill="#fff" stroke="#ff0000" stroke-width="2.0"/>
<circle cx="218.3" cy="1012.5" r="8.0" fill="#fff" stroke="#ff0000" stroke-width="2.0"/>
<circle cx="235.2" cy="991.4" r="8.0" fill="#fff" stroke="#ff0000" stroke-width="2.0"/>
<circle cx="249.1" cy="969.7" r="8.0" fill="#fff" stroke="#ff0000" stroke-width="2.0"/>
<circle cx="275.0" cy="950.0" r="8.0" fill="#fff" stroke="#ff0000" stroke-width="2.0"/>
<circle cx="300.0" cy="930.0" r="8.0" fill="#fff" stroke="#ff0000" stroke-width="2.0"/>
<circle cx="325.0" cy="910.0" r="8.0" fill="#fff" stroke="#ff0000" stroke-width="2.0"/>
<circle cx="340.0" cy="897.0" r="8.0" fill="#fff" stroke="#ff0000" stroke-width="2.0"/>
<circle cx="354.5" cy="885.5" r="8.0" fill="#fff" stroke="#ff0000" stroke-width="2.0"/>
<circle cx="368.4" cy="873.4" r="8.0" fill="#fff" stroke="#ff0000" stroke-width="2.0"/>
<circle cx="380.5" cy="863.0" r="8.0" fill="#fff" stroke="#ff0000" stroke-width="2.0"/>
<circle cx="394.3" cy="850.9" r="8.0" fill="#fff" stroke="#ff0000" stroke-width="2.0"/>
<circle cx="408.1" cy="844.0" r="8.0" fill="#fff" stroke="#ff0000" stroke-width="2.0"/>
<circle cx="423.6" cy="835.4" r="8.0" fill="#fff" stroke="#ff0000" stroke-width="2.0"/>
<circle cx="439.2" cy="824.1" r="8.0" fill="#fff" stroke="#ff0000" stroke-width="2.0"/>
<circle cx="453.0" cy="816.4" r="8.0" fill="#fff" stroke="#ff0000" stroke-width="2.0"/>
<circle cx="470.3" cy="807.7" r="8.0" fill="#fff" stroke="#ff0000" stroke-width="2.0"/>
<circle cx="485.8" cy="799.1" r="8.0" fill="#fff" stroke="#ff0000" stroke-width="2.0"/>
<circle cx="505.6" cy="791.6" r="8.0" fill="#fff" stroke="#ff0000" stroke-width="2.0"/>
<circle cx="522.4" cy="784.4" r="8.0" fill="#fff" stroke="#ff0000" stroke-width="2.0"/>
<circle cx="546.4" cy="777.2" r="8.0" fill="#fff" stroke="#ff0000" stroke-width="2.0"/>
<circle cx="565.6" cy="773.6" r="8.0" fill="#fff" stroke="#ff0000" stroke-width="2.0"/>
<circle cx="590.7" cy="767.6" r="8.0" fill="#fff" stroke="#ff0000" stroke-width="2.0"/>
<circle cx="610.0" cy="765.2" r="8.0" fill="#fff" stroke="#ff0000" stroke-width="2.0"/>
<circle cx="641.1" cy="764.0" r="8.0" fill="#fff" stroke="#ff0000" stroke-width="2.0"/>
<circle cx="654.3" cy="764.0" r="8.0" fill="#fff" stroke="#ff0000" stroke-width="2.0"/>
<circle cx="693.2" cy="766.8" r="8.0" fill="#fff" stroke="#ff0000" stroke-width="2.0"/>
<circle cx="706.4" cy="768.0" r="8.0" fill="#fff" stroke="#ff0000" stroke-width="2.0"/>
<circle cx="749.6" cy="778.8" r="8.0" fill="#fff" stroke="#ff0000" stroke-width="2.0"/>
<circle cx="771.2" cy="784.8" r="8.0" fill="#fff" stroke="#ff0000" stroke-width="2.0"/>
<rect x="116.5" y="1137.7" width="14.5" height="14.5" fill="#fff" stroke="#222" stroke-width="2.0"/>
<rect x="127.1" y="1120.8" width="14.5" height="14.5" fill="#fff" stroke="#222" stroke-width="2.0"/>
<rect x="141.8" y="1103.8" width="14.5" height="14.5" fill="#fff" stroke="#222" stroke-width="2.0"/>
<rect x="152.3" y="1083.8" width="14.5" height="14.5" fill="#fff" stroke="#222" stroke-width="2.0"/>
<rect x="167.2" y="1065.8" width="14.5" height="14.5" fill="#fff" stroke="#222" stroke-width="2.0"/>
<rect x="181.9" y="1048.0" width="14.5" height="14.5" fill="#fff" stroke="#222" stroke-width="2.0"/>
<rect x="195.7" y="1027.8" width="14.5" height="14.5" fill="#fff" stroke="#222" stroke-width="2.0"/>
<rect x="212.6" y="1006.8" width="14.5" height="14.5" fill="#fff" stroke="#222" stroke-width="2.0"/>
<rect x="229.4" y="985.6" width="14.5" height="14.5" fill="#fff" stroke="#222" stroke-width="2.0"/>
<rect x="243.3" y="964.0" width="14.5" height="14.5" fill="#fff" stroke="#222" stroke-width="2.0"/>
<rect x="252.9" y="952.5" width="14.5" height="14.5" fill="#fff" stroke="#222" stroke-width="2.0"/>
<rect x="265.4" y="941.9" width="14.5" height="14.5" fill="#fff" stroke="#222" stroke-width="2.0"/>
<rect x="274.9" y="930.4" width="14.5" height="14.5" fill="#fff" stroke="#222" stroke-width="2.0"/>
<rect x="288.4" y="917.9" width="14.5" height="14.5" fill="#fff" stroke="#222" stroke-width="2.0"/>
<rect x="310.4" y="893.9" width="14.5" height="14.5" fill="#fff" stroke="#222" stroke-width="2.0"/>
<rect x="321.1" y="881.4" width="14.5" height="14.5" fill="#fff" stroke="#222" stroke-width="2.0"/>
<rect x="333.4" y="867.9" width="14.5" height="14.5" fill="#fff" stroke="#222" stroke-width="2.0"/>
<rect x="346.4" y="855.8" width="14.5" height="14.5" fill="#fff" stroke="#222" stroke-width="2.0"/>
<rect x="362.9" y="842.0" width="14.5" height="14.5" fill="#fff" stroke="#222" stroke-width="2.0"/>
<rect x="375.8" y="829.9" width="14.5" height="14.5" fill="#fff" stroke="#222" stroke-width="2.0"/>
<rect x="390.4" y="816.9" width="14.5" height="14.5" fill="#fff" stroke="#222" stroke-width="2.0"/>
<rect x="407.8" y="802.2" width="14.5" height="14.5" fill="#fff" stroke="#222" stroke-width="2.0"/>
<rect x="421.6" y="793.5" width="14.5" height="14.5" fill="#fff" stroke="#222" stroke-width="2.0"/>
<rect x="440.6" y="779.8" width="14.5" height="14.5" fill="#fff" stroke="#222" stroke-width="2.0"/>
<rect x="471.6" y="753.9" width="14.5" height="14.5" fill="#fff" stroke="#222" stroke-width="2.0"/>
<rect x="487.2" y="745.2" width="14.5" height="14.5" fill="#fff" stroke="#222" stroke-width="2.0"/>
<rect x="514.2" y="731.2" width="14.5" height="14.5" fill="#fff" stroke="#222" stroke-width="2.0"/>
<rect x="528.0" y="724.4" width="14.5" height="14.5" fill="#fff" stroke="#222" stroke-width="2.0"/>
<rect x="559.1" y="707.0" width="14.5" height="14.5" fill="#fff" stroke="#222" stroke-width="2.0"/>
<rect x="567.8" y="703.5" width="14.5" height="14.5" fill="#fff" stroke="#222" stroke-width="2.0"/>
<rect x="609.2" y="688.0" width="14.5" height="14.5" fill="#fff" stroke="#222" stroke-width="2.0"/>
<rect x="619.6" y="684.5" width="14.5" height="14.5" fill="#fff" stroke="#222" stroke-width="2.0"/>
<rect x="662.8" y="670.8" width="14.5" height="14.5" fill="#fff" stroke="#222" stroke-width="2.0"/>
<rect x="673.1" y="669.0" width="14.5" height="14.5" fill="#fff" stroke="#222" stroke-width="2.0"/>
<rect x="726.8" y="663.1" width="14.5" height="14.5" fill="#fff" stroke="#222" stroke-width="2.0"/>
<rect x="735.4" y="663.1" width="14.5" height="14.5" fill="#fff" stroke="#222" stroke-width="2.0"/>
<rect x="790.5" y="662.8" width="14.5" height="14.5" fill="#fff" stroke="#222" stroke-width="2.0"/>
<rect x="806.4" y="662.8" width="14.5" height="14.5" fill="#fff" stroke="#222" stroke-width="2.0"/>
</g>
<path d="M117.3 15.0 H904.5 V1155.2 H117.3 Z" fill="none" stroke="#000" stroke-width="3"/>
<path d="M117.3 581.0 H904.5" stroke="#000" stroke-width="3"/>
<path d="M104.8 581.0 H117.3 M104.8 1155.0 H117.3 M110.3 537.4 H117.3 M110.3 1111.4 H117.3 M104.8 493.8 H117.3 M104.8 1067.8 H117.3 M110.3 450.1 H117.3 M110.3 1024.3 H117.3 M104.8 406.5 H117.3 M104.8 980.7 H117.3 M110.3 362.9 H117.3 M110.3 937.1 H117.3 M104.8 319.3 H117.3 M104.8 893.5 H117.3 M110.3 275.7 H117.3 M110.3 849.9 H117.3 M104.8 232.0 H117.3 M104.8 806.4 H117.3 M110.3 188.4 H117.3 M110.3 762.8 H117.3 M104.8 144.8 H117.3 M104.8 719.2 H117.3 M110.3 101.2 H117.3 M110.3 675.6 H117.3 M104.8 57.6 H117.3 M104.8 632.0 H117.3 M110.3 13.9 H117.3 M904.5 580.5 H917.0 M904.5 540.1 H911.5 M904.5 499.7 H917.0 M904.5 459.3 H911.5 M904.5 418.9 H917.0 M904.5 378.5 H911.5 M904.5 338.1 H917.0 M904.5 297.7 H911.5 M904.5 257.3 H917.0 M904.5 216.9 H911.5 M904.5 176.5 H917.0 M904.5 136.1 H911.5 M904.5 95.7 H917.0 M904.5 55.3 H911.5 M904.5 14.9 H917.0 M904.5 1155.0 H917.0 M904.5 1103.4 H911.5 M904.5 1051.8 H917.0 M904.5 1000.2 H911.5 M904.5 948.6 H917.0 M904.5 897.0 H911.5 M904.5 845.4 H917.0 M904.5 793.8 H911.5 M904.5 742.2 H917.0 M904.5 690.6 H911.5 M904.5 639.0 H917.0 M117.8 581.0 V592.0 M117.8 1155.2 V1166.2 M205.0 581.0 V588.0 M205.0 1155.2 V1162.2 M292.3 581.0 V592.0 M292.3 1155.2 V1166.2 M379.5 581.0 V588.0 M379.5 1155.2 V1162.2 M466.8 581.0 V592.0 M466.8 1155.2 V1166.2 M554.0 581.0 V588.0 M554.0 1155.2 V1162.2 M641.2 581.0 V592.0 M641.2 1155.2 V1166.2 M728.5 581.0 V588.0 M728.5 1155.2 V1162.2 M815.7 581.0 V592.0 M815.7 1155.2 V1166.2 M903.0 581.0 V588.0 M903.0 1155.2 V1162.2 " stroke="#000" stroke-width="3" fill="none"/>
<text x="97.5" y="590.0" font-size="31.5" text-anchor="end">0.0</text>
<text x="97.5" y="1164.0" font-size="31.5" text-anchor="end">0.0</text>
<text x="97.5" y="502.8" font-size="31.5" text-anchor="end">0.2</text>
<text x="97.5" y="1076.8" font-size="31.5" text-anchor="end">0.2</text>
<text x="97.5" y="415.5" font-size="31.5" text-anchor="end">0.4</text>
<text x="97.5" y="989.7" font-size="31.5" text-anchor="end">0.4</text>
<text x="97.5" y="328.3" font-size="31.5" text-anchor="end">0.6</text>
<text x="97.5" y="902.5" font-size="31.5" text-anchor="end">0.6</text>
<text x="97.5" y="241.0" font-size="31.5" text-anchor="end">0.8</text>
<text x="97.5" y="815.4" font-size="31.5" text-anchor="end">0.8</text>
<text x="97.5" y="153.8" font-size="31.5" text-anchor="end">1.0</text>
<text x="97.5" y="728.2" font-size="31.5" text-anchor="end">1.0</text>
<text x="97.5" y="66.6" font-size="31.5" text-anchor="end">1.2</text>
<text x="97.5" y="641.0" font-size="31.5" text-anchor="end">1.2</text>
<text x="923.5" y="589.5" font-size="31.5">0</text>
<text x="923.5" y="508.7" font-size="31.5">20</text>
<text x="923.5" y="427.9" font-size="31.5">40</text>
<text x="923.5" y="347.1" font-size="31.5">60</text>
<text x="923.5" y="266.3" font-size="31.5">80</text>
<text x="923.5" y="185.5" font-size="31.5">100</text>
<text x="923.5" y="104.7" font-size="31.5">120</text>
<text x="923.5" y="23.9" font-size="31.5">140</text>
<text x="923" y="1164.0" font-size="31.5">0</text>
<text x="923" y="1060.8" font-size="31.5">20</text>
<text x="923" y="957.6" font-size="31.5">40</text>
<text x="923" y="854.4" font-size="31.5">60</text>
<text x="923" y="751.2" font-size="31.5">80</text>
<text x="923" y="648.0" font-size="31.5">100</text>
<text x="117.8" y="1196.5" font-size="31.5" text-anchor="middle">0</text>
<text x="292.3" y="1196.5" font-size="31.5" text-anchor="middle">40</text>
<text x="466.8" y="1196.5" font-size="31.5" text-anchor="middle">80</text>
<text x="641.2" y="1196.5" font-size="31.5" text-anchor="middle">120</text>
<text x="815.7" y="1196.5" font-size="31.5" text-anchor="middle">160</text>
<text x="209.5" y="47.5" font-size="32">(a)</text>
<text x="209" y="624" font-size="32">(b)</text>
<text x="610.5" y="416.3" font-size="30">T=900 °C</text>
<text x="610.5" y="454.3" font-size="30">Fuel: hydrogen</text>
<text x="687.0" y="492.3" font-size="30">YSZ/45Ni</text>
<text x="687.0" y="530.8" font-size="30">YSZ/28Ni</text>
<text x="687.0" y="568.8" font-size="30">GDC/Ni</text>
<rect x="636.5" y="476.8" width="16.0" height="16.0" fill="#000"/>
<circle cx="644.0" cy="522.5" r="9.0" fill="#ff0000"/>
<polygon points="644.0,553.0 654.0,569.0 634.0,569.0" fill="#0000ff"/>
<text x="608.5" y="990.3" font-size="30">T=900 °C</text>
<text x="608.5" y="1028.3" font-size="30">Fuel: ethanol</text>
<text x="675.5" y="1066.3" font-size="30">YSZ/45Ni</text>
<text x="675.5" y="1104.8" font-size="30">YSZ/28Ni</text>
<text x="675.5" y="1142.8" font-size="30">GDC/Ni</text>
<rect x="634.3" y="1051.3" width="15.0" height="15.0" fill="#000"/>
<circle cx="641.5" cy="1096.5" r="8.5" fill="#ff0000"/>
<polygon points="641.0,1127.5 651.0,1143.5 631.0,1143.5" fill="#0000ff"/>
<text transform="translate(30,692.5) rotate(-90)" font-size="44">V (Volt)</text>
<text transform="translate(1034,687) rotate(-90)" font-size="43.8">P (mW/cm<tspan font-size="23" dy="-24">2</tspan><tspan dy="24">)</tspan></text>
<text x="408.6" y="1270.5" font-size="41.7">I (mA/cm<tspan font-size="23" dy="-22.5">2</tspan><tspan dy="22.5">)</tspan></text>
</svg>
</div></body></html>
